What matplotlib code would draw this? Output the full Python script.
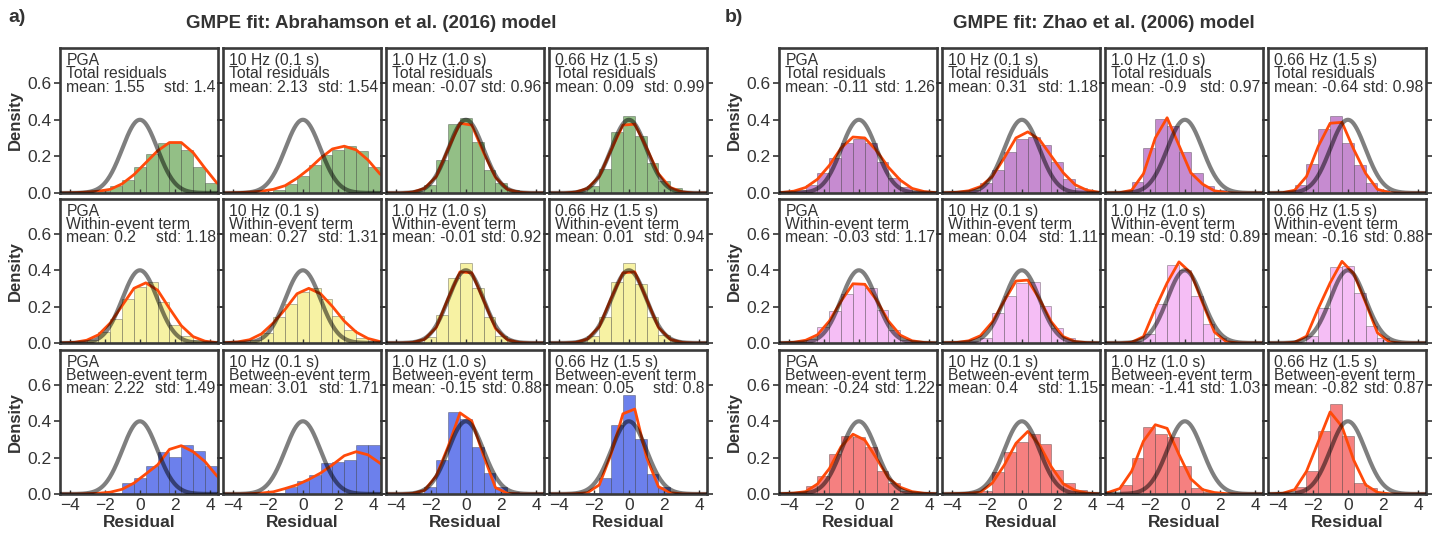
import numpy as np
import matplotlib
matplotlib.use('Agg')
import matplotlib.pyplot as plt

plt.rcParams['font.family'] = ['Liberation Sans', 'DejaVu Sans']

# histogram bins (shared by all panels) and points of the fitted density curve
bin_w = 0.674
bin_centers = np.arange(-6, 7) * bin_w
kde_x = np.arange(-7.5, 8, 1) * bin_w

periods = ['PGA', '10 Hz (0.1 s)', '1.0 Hz (1.0 s)', '0.66 Hz (1.5 s)']
terms = ['Total residuals', 'Within-event term', 'Between-event term']

# Abrahamson et al. (2016)
abr_total_hist = [[0, 0, 0, 0.01, 0.04, 0.07, 0.14, 0.215, 0.275, 0.28, 0.235, 0.14, 0.055],
                  [0, 0, 0, 0.005, 0.015, 0.05, 0.095, 0.15, 0.205, 0.237, 0.254, 0.23, 0.14],
                  [0, 0, 0.01, 0.045, 0.178, 0.376, 0.41, 0.28, 0.128, 0.054, 0.017, 0, 0],
                  [0, 0, 0.01, 0.04, 0.133, 0.335, 0.42, 0.31, 0.165, 0.063, 0.026, 0.005, 0]]
abr_within_hist = [[0, 0, 0.018, 0.06, 0.133, 0.24, 0.305, 0.337, 0.226, 0.10, 0.037, 0.015, 0.003],
                   [0, 0.005, 0.015, 0.055, 0.14, 0.213, 0.278, 0.304, 0.244, 0.15, 0.07, 0.03, 0.01],
                   [0, 0, 0.008, 0.033, 0.156, 0.356, 0.437, 0.304, 0.14, 0.04, 0.01, 0, 0],
                   [0, 0, 0.01, 0.037, 0.14, 0.333, 0.437, 0.322, 0.14, 0.046, 0.012, 0, 0]]
abr_between_hist = [[0, 0, 0, 0, 0.005, 0.059, 0.09, 0.154, 0.233, 0.205, 0.268, 0.237, 0.154],
                    [0, 0, 0, 0, 0.008, 0.037, 0.072, 0.105, 0.169, 0.178, 0.187, 0.27, 0.27],
                    [0, 0, 0.005, 0.04, 0.187, 0.45, 0.41, 0.257, 0.114, 0.037, 0.01, 0, 0],
                    [0, 0, 0, 0.005, 0.086, 0.38, 0.545, 0.30, 0.11, 0.04, 0, 0, 0]]
abr_total_kde = [[0, 0, 0.002, 0.005, 0.01, 0.02, 0.05, 0.1, 0.165, 0.23, 0.275, 0.275, 0.22, 0.135, 0.055, 0.02],
                 [0, 0, 0.002, 0.005, 0.01, 0.02, 0.04, 0.08, 0.13, 0.19, 0.24, 0.255, 0.235, 0.18, 0.105, 0.05],
                 [0, 0, 0, 0.005, 0.025, 0.09, 0.24, 0.38, 0.37, 0.22, 0.085, 0.02, 0.004, 0, 0, 0],
                 [0, 0, 0, 0.005, 0.025, 0.09, 0.235, 0.37, 0.375, 0.245, 0.105, 0.03, 0.006, 0, 0, 0]]
abr_within_kde = [[0, 0.001, 0.004, 0.015, 0.045, 0.11, 0.205, 0.3, 0.33, 0.29, 0.19, 0.095, 0.035, 0.01, 0.002, 0],
                  [0, 0.002, 0.006, 0.018, 0.05, 0.11, 0.185, 0.27, 0.3, 0.27, 0.2, 0.12, 0.06, 0.025, 0.008, 0.002],
                  [0, 0, 0, 0.003, 0.02, 0.085, 0.245, 0.39, 0.385, 0.235, 0.08, 0.018, 0.003, 0, 0, 0],
                  [0, 0, 0, 0.003, 0.022, 0.09, 0.245, 0.385, 0.39, 0.24, 0.085, 0.02, 0.003, 0, 0, 0]]
abr_between_kde = [[0, 0, 0, 0.002, 0.004, 0.01, 0.026, 0.06, 0.11, 0.16, 0.245, 0.265, 0.232, 0.178, 0.1, 0.04],
                   [0, 0, 0, 0.002, 0.005, 0.012, 0.03, 0.05, 0.08, 0.115, 0.16, 0.21, 0.232, 0.215, 0.17, 0.12],
                   [0, 0, 0, 0.003, 0.02, 0.1, 0.26, 0.445, 0.4, 0.21, 0.035, 0.004, 0, 0, 0, 0],
                   [0, 0, 0, 0.002, 0.007, 0.05, 0.22, 0.44, 0.466, 0.2, 0.04, 0.007, 0.001, 0, 0, 0]]
abr_mean = [[1.55, 2.13, -0.07, 0.09], [0.2, 0.27, -0.01, 0.01], [2.22, 3.01, -0.15, 0.05]]
abr_std = [[1.4, 1.54, 0.96, 0.99], [1.18, 1.31, 0.92, 0.94], [1.49, 1.71, 0.88, 0.8]]

# Zhao et al. (2006)
zhao_total_hist = [[0, 0.015, 0.046, 0.107, 0.19, 0.27, 0.296, 0.27, 0.17, 0.083, 0.033, 0.01, 0],
                   [0, 0, 0.015, 0.052, 0.126, 0.222, 0.296, 0.307, 0.263, 0.17, 0.075, 0.025, 0.005],
                   [0, 0.01, 0.061, 0.246, 0.404, 0.367, 0.222, 0.107, 0.037, 0.015, 0, 0, 0],
                   [0, 0.01, 0.046, 0.157, 0.348, 0.417, 0.274, 0.154, 0.056, 0.015, 0, 0, 0]]
zhao_within_hist = [[0, 0.008, 0.022, 0.087, 0.176, 0.268, 0.328, 0.302, 0.18, 0.074, 0.019, 0.005, 0],
                    [0, 0, 0.01, 0.028, 0.163, 0.26, 0.33, 0.333, 0.204, 0.08, 0.025, 0.005, 0],
                    [0, 0, 0.01, 0.052, 0.213, 0.43, 0.398, 0.256, 0.102, 0.028, 0.005, 0, 0],
                    [0, 0, 0.008, 0.04, 0.194, 0.417, 0.422, 0.272, 0.093, 0.028, 0, 0, 0]]
zhao_between_hist = [[0, 0.01, 0.046, 0.098, 0.217, 0.32, 0.315, 0.259, 0.124, 0.061, 0.019, 0, 0],
                     [0, 0, 0.008, 0.019, 0.12, 0.231, 0.287, 0.328, 0.272, 0.13, 0.06, 0.02, 0],
                     [0, 0.05, 0.198, 0.37, 0.328, 0.311, 0.154, 0.031, 0.009, 0, 0, 0, 0],
                     [0, 0.005, 0.037, 0.124, 0.346, 0.494, 0.32, 0.061, 0.031, 0.005, 0, 0, 0]]
zhao_total_kde = [[0, 0.003, 0.01, 0.03, 0.075, 0.15, 0.245, 0.305, 0.3, 0.23, 0.14, 0.07, 0.025, 0.008, 0.002, 0],
                  [0, 0.001, 0.004, 0.012, 0.035, 0.09, 0.19, 0.3, 0.333, 0.29, 0.2, 0.11, 0.045, 0.015, 0.004, 0],
                  [0, 0, 0.002, 0.015, 0.105, 0.3, 0.41, 0.26, 0.11, 0.048, 0.012, 0.002, 0, 0, 0, 0],
                  [0, 0, 0.002, 0.015, 0.09, 0.255, 0.38, 0.385, 0.237, 0.107, 0.02, 0.002, 0, 0, 0, 0]]
zhao_within_kde = [[0, 0.001, 0.004, 0.015, 0.045, 0.12, 0.23, 0.325, 0.322, 0.235, 0.12, 0.043, 0.012, 0.003, 0, 0],
                   [0, 0.001, 0.003, 0.012, 0.04, 0.115, 0.23, 0.34, 0.345, 0.24, 0.115, 0.035, 0.008, 0.002, 0, 0],
                   [0, 0, 0, 0.004, 0.035, 0.19, 0.33, 0.445, 0.385, 0.22, 0.06, 0.007, 0.001, 0, 0, 0],
                   [0, 0, 0, 0.004, 0.037, 0.19, 0.33, 0.448, 0.38, 0.222, 0.056, 0.006, 0, 0, 0, 0]]
zhao_between_kde = [[0, 0.002, 0.005, 0.013, 0.055, 0.139, 0.26, 0.328, 0.296, 0.194, 0.087, 0.037, 0.013, 0.004, 0.001, 0],
                    [0, 0, 0.002, 0.004, 0.01, 0.06, 0.157, 0.278, 0.343, 0.268, 0.148, 0.056, 0.02, 0.005, 0.001, 0],
                    [0.002, 0.008, 0.03, 0.125, 0.29, 0.38, 0.36, 0.217, 0.083, 0.024, 0.008, 0.002, 0, 0, 0, 0],
                    [0, 0.001, 0.004, 0.024, 0.124, 0.287, 0.45, 0.37, 0.185, 0.05, 0.009, 0.001, 0, 0, 0, 0]]
zhao_mean = [[-0.11, 0.31, -0.9, -0.64], [-0.03, 0.04, -0.19, -0.16], [-0.24, 0.4, -1.41, -0.82]]
zhao_std = [[1.26, 1.18, 0.97, 0.98], [1.17, 1.11, 0.89, 0.88], [1.22, 1.15, 1.03, 0.87]]

abr_colors = ['#93bf86', '#f7f2a3', '#6c80ec']
zhao_colors = ['#c68bd0', '#f5bef5', '#f58080']
dark = '#333333'

W, H = 1435, 535
fig = plt.figure(figsize=(W / 100, H / 100), dpi=100)

col_w = 158
gap = 5
group_left = [60, 779]
row_top = [48, 199, 350]
row_h = [145, 144, 144]

norm_x = np.linspace(-4.7, 4.7, 300)
norm_y = np.exp(-norm_x ** 2 / 2) / np.sqrt(2 * np.pi)


def panel(ax, hist, kde, color, mean, std, period, term, first_col, bottom):
    ax.bar(bin_centers, hist, width=bin_w, color=color, edgecolor=(0, 0, 0, 0.28), linewidth=0.7, zorder=1)
    ax.plot(kde_x, kde, color='#ff4a0a', lw=2.0, zorder=2)
    ax.plot(norm_x, norm_y, color='black', alpha=0.5, lw=3.0, zorder=3, solid_capstyle='round')
    ax.set_xlim(-4.55, 4.45)
    ax.set_ylim(0, 0.79)
    ax.set_xticks([-4, -2, 0, 2, 4])
    ax.set_yticks([0, 0.2, 0.4, 0.6])
    ax.tick_params(axis='x', direction='in', length=3, width=1, colors=dark, labelsize=12.5, top=False, pad=3)
    ax.tick_params(axis='y', direction='out', length=4, width=1.2, colors=dark, labelsize=12.5,
                   left=True, right=True, pad=2)
    for s in ax.spines.values():
        s.set_linewidth(1.9)
        s.set_color('#3a3a3a')
    if first_col:
        ax.set_yticklabels(['0.0', '0.2', '0.4', '0.6'])
        ax.set_ylabel('Density', fontsize=12, fontweight='bold', color=dark, labelpad=3)
    else:
        ax.set_yticklabels([])
    if bottom:
        ax.set_xlabel('Residual', fontsize=12.5, fontweight='bold', color=dark, labelpad=1)
    else:
        ax.set_xticklabels([])
    tk = dict(transform=ax.transAxes, fontsize=11.3, color=dark)
    ax.text(0.04, 0.885, period, **tk)
    ax.text(0.04, 0.795, term, **tk)
    ax.text(0.04, 0.70, 'mean: ' + str(mean), **tk)
    ax.text(0.985, 0.70, 'std: ' + str(std), ha='right', **tk)


abr_hist = [abr_total_hist, abr_within_hist, abr_between_hist]
abr_kde = [abr_total_kde, abr_within_kde, abr_between_kde]
zhao_hist = [zhao_total_hist, zhao_within_hist, zhao_between_hist]
zhao_kde = [zhao_total_kde, zhao_within_kde, zhao_between_kde]

for g, (hists, kdes, cols, means, stds) in enumerate([(abr_hist, abr_kde, abr_colors, abr_mean, abr_std),
                                                       (zhao_hist, zhao_kde, zhao_colors, zhao_mean, zhao_std)]):
    for r in range(3):
        for c in range(4):
            x0 = group_left[g] + c * (col_w + gap)
            rect = [x0 / W, 1 - (row_top[r] + row_h[r]) / H, col_w / W, row_h[r] / H]
            ax = fig.add_axes(rect)
            panel(ax, hists[r][c], kdes[r][c], cols[r], means[r][c], stds[r][c],
                  periods[c], terms[r], c == 0, r == 2)

fig.text(371 / W, 1 - 24 / H, 'GMPE fit: Abrahamson et al. (2016) model', ha='center', va='center',
         fontsize=13.5, fontweight='bold', color=dark)
fig.text(1104 / W, 1 - 24 / H, 'GMPE fit: Zhao et al. (2006) model', ha='center', va='center',
         fontsize=13.5, fontweight='bold', color=dark)
fig.text(8 / W, 1 - 18 / H, 'a)', ha='left', va='center', fontsize=14, fontweight='bold', color=dark)
fig.text(725 / W, 1 - 18 / H, 'b)', ha='left', va='center', fontsize=14, fontweight='bold', color=dark)

fig.savefig('out.png', dpi=100)
